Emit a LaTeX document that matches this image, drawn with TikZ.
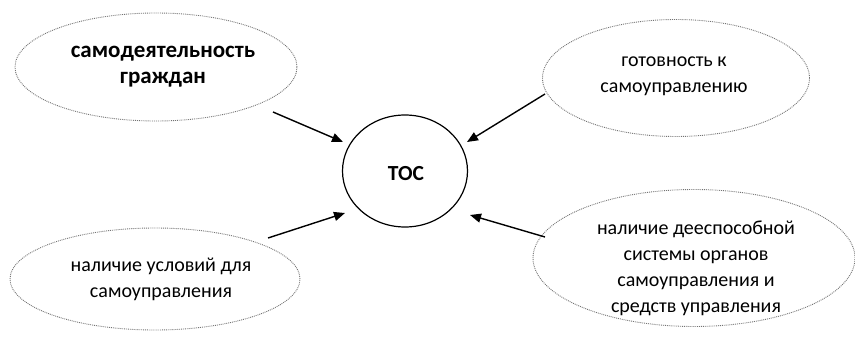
\documentclass[tikz,border=0pt]{standalone}
\usepackage{fontspec}
\setmainfont{Carlito}
\usetikzlibrary{shapes.geometric,arrows.meta}
\begin{document}
\begin{tikzpicture}[x=1pt,y=-1pt,
  oval/.style={ellipse,draw=black!55,densely dotted,line width=0.9pt,inner sep=0pt},
  lbl/.style={align=center,font=\fontsize{20}{26}\selectfont},
  conn/.style={-{Triangle[length=11pt,width=9pt]},line width=1.4pt}]
\useasboundingbox (0,0) rectangle (855,337);
\node[oval,minimum width=282pt,minimum height=108pt] (tl) at (156,67) {};
\node[oval,minimum width=267pt,minimum height=117pt] (tr) at (676,78) {};
\node[oval,minimum width=290pt,minimum height=102pt] (bl) at (155,279) {};
\node[oval,minimum width=322pt,minimum height=137pt] (br) at (694,258) {};
\node[ellipse,draw,line width=1.2pt,minimum width=125pt,minimum height=112pt,inner sep=0pt] (toc) at (405,171) {};
\node[lbl,font=\fontsize{21.5}{26}\selectfont\bfseries] at (406,174) {ТОС};
\node[lbl,font=\fontsize{23}{26}\selectfont\bfseries] (ttl) at (163,67) {самодеятельность\\граждан};
\node[lbl] (ttr) at (674,76) {готовность к\\самоуправлению};
\node[lbl] (tbl) at (161,279) {наличие условий для\\самоуправления};
\node[lbl] (tbr) at (696,268) {наличие дееспособной\\системы органов\\самоуправления и\\средств управления};
\coordinate (a1) at (273,112); \coordinate (b1) at (343,142);
\coordinate (a2) at (545,94);  \coordinate (b2) at (467,142);
\coordinate (a3) at (268,238); \coordinate (b3) at (345,213);
\coordinate (a4) at (545,237); \coordinate (b4) at (470,215);
\draw[conn] (a1) -- (b1);
\draw[conn] (a2) -- (b2);
\draw[conn] (a3) -- (b3);
\draw[conn] (a4) -- (b4);
\end{tikzpicture}
\end{document}
